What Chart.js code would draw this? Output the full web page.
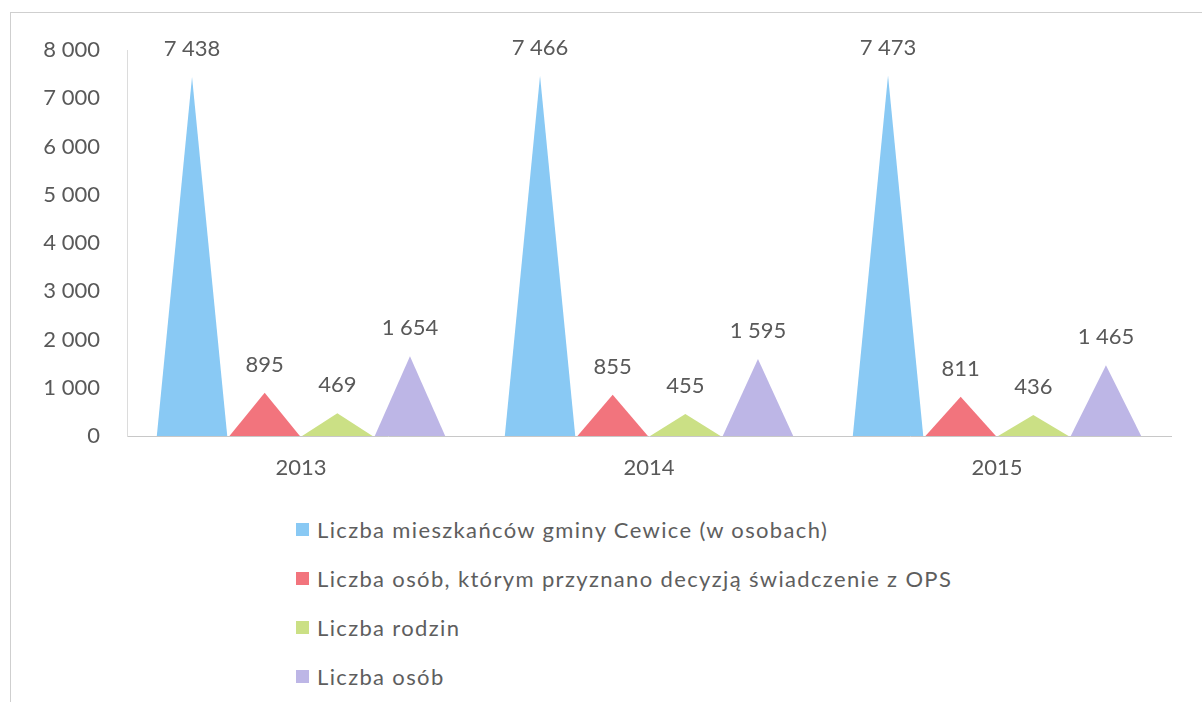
<!DOCTYPE html>
<html lang="pl">
<head>
<meta charset="utf-8">
<script src="https://cdn.jsdelivr.net/npm/chart.js@4/dist/chart.umd.min.js"></script>
<style>
  html, body { margin: 0; padding: 0; background: #fff; }
  body { width: 1202px; height: 702px; position: relative; overflow: hidden; font-family: Lato, "Open Sans", sans-serif; }
  #frame { position: absolute; left: 10px; top: 12px; width: 1300px; height: 800px;
           border-left: 1px solid #cfcfcf; border-top: 1px solid #cfcfcf; }
  #wrap { position: absolute; left: 0; top: 0; width: 1202px; height: 500px; }
  #legend { position: absolute; left: 296px; top: 505px; margin: 0; padding: 0; list-style: none; }
  #legend li { height: 49px; display: flex; align-items: center; font-size: 22px; letter-spacing: 1.35px;
               color: #5e5e5e; white-space: nowrap; }
  #legend li span.box { display: inline-block; width: 13px; height: 13px; margin-right: 8px; flex: none; }
</style>
</head>
<body>
<div id="frame"></div>
<div id="wrap"><canvas id="chart"></canvas></div>
<ul id="legend"></ul>
<script>
/* Pyramid-style bar chart */

const YEARS = ['2013', '2014', '2015'];
const SERIES_NAMES = [
    'Liczba mieszkańców gminy Cewice (w osobach)',
    'Liczba osób, którym przyznano decyzją świadczenie z OPS',
    'Liczba rodzin',
    'Liczba osób'
];
const RESIDENTS   = [7438, 7466, 7473];
const OPS_PERSONS = [895, 855, 811];
const FAMILIES    = [469, 455, 436];
const PERSONS     = [1654, 1595, 1465];
const COLORS = ['#89c9f4', '#f2747d', '#cbe085', '#bdb6e6'];

const TEXT_COLOR = '#595959';
const FONT = 'Lato, "Open Sans", sans-serif';

function fmt(v) {
    return String(v).replace(/\B(?=(\d{3})+(?!\d))/g, ' ');
}

// draws each bar element as a triangle, then its value above the apex
const pyramidPlugin = {
    id: 'pyramid',
    beforeDatasetsDraw(chart) {
        const ctx = chart.ctx;
        chart.data.datasets.forEach((ds, i) => {
            const meta = chart.getDatasetMeta(i);
            meta.data.forEach(bar => {
                const half = bar.width / 2;
                ctx.beginPath();
                ctx.moveTo(bar.x - half, bar.base);
                ctx.lineTo(bar.x, bar.y);
                ctx.lineTo(bar.x + half, bar.base);
                ctx.closePath();
                ctx.fillStyle = ds.backgroundColor;
                ctx.fill();
            });
        });
        return false;
    },
    afterDraw(chart) {
        const ctx = chart.ctx;
        ctx.save();
        ctx.font = '22px ' + FONT;
        ctx.fillStyle = TEXT_COLOR;
        ctx.textAlign = 'center';
        ctx.textBaseline = 'middle';
        chart.data.datasets.forEach((ds, i) => {
            chart.getDatasetMeta(i).data.forEach((bar, j) => {
                ctx.fillText(fmt(ds.data[j]), bar.x, bar.y - 28);
            });
        });
        ctx.restore();
    }
};

const seriesData = [RESIDENTS, OPS_PERSONS, FAMILIES, PERSONS];

const chart = new Chart(document.getElementById('chart'), {
    type: 'bar',
    data: {
        labels: YEARS,
        datasets: SERIES_NAMES.map((name, i) => ({
            label: name,
            data: seriesData[i],
            backgroundColor: COLORS[i],
            categoryPercentage: 0.835,
            barPercentage: 0.97,
        }))
    },
    options: {
        responsive: true,
        maintainAspectRatio: false,
        animation: false,
        layout: { padding: { top: 50, right: 31, left: 0, bottom: 0 } },
        plugins: {
            legend: { display: false },
            tooltip: { enabled: false }
        },
        scales: {
            x: {
                grid: { display: false, drawTicks: false },
                border: { color: '#c8c8c8', width: 1 },
                ticks: { color: TEXT_COLOR, font: { family: FONT, size: 22 }, padding: 19 },
                afterFit(scale) { scale.height = 64; }
            },
            y: {
                min: 0,
                max: 8000,
                grid: { display: false, drawTicks: false },
                border: { color: '#dcdcdc', width: 1 },
                ticks: {
                    stepSize: 1000,
                    color: TEXT_COLOR,
                    font: { family: FONT, size: 22 },
                    padding: 27,
                    callback: v => fmt(v)
                },
                afterFit(scale) { scale.width = 127; }
            }
        }
    },
    plugins: [pyramidPlugin]
});

// vertical legend below the chart
const legendEl = document.getElementById('legend');
chart.data.datasets.forEach(ds => {
    const li = document.createElement('li');
    const box = document.createElement('span');
    box.className = 'box';
    box.style.background = ds.backgroundColor;
    li.appendChild(box);
    li.appendChild(document.createTextNode(ds.label));
    legendEl.appendChild(li);
});
</script>
</body>
</html>
